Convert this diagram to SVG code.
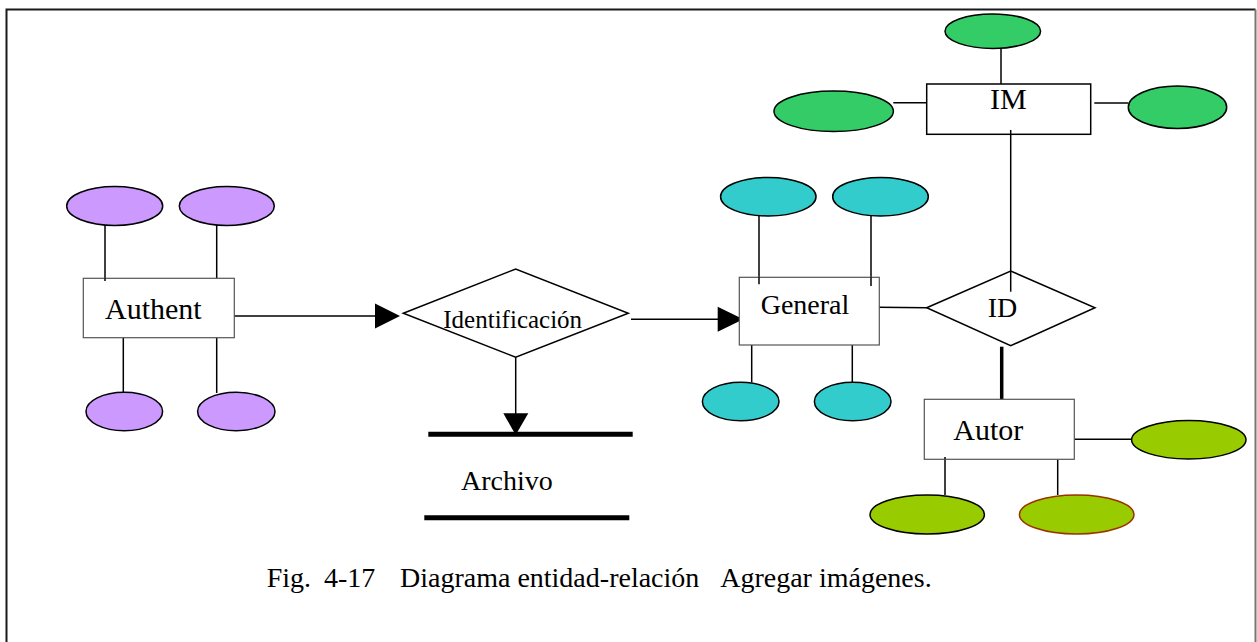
<svg xmlns="http://www.w3.org/2000/svg" width="1257" height="642" viewBox="0 0 1257 642">
  <defs>
    <style>
      .ent { fill: #ffffff; stroke: #555555; stroke-width: 1.2; }
      .rel { fill: #ffffff; stroke: #000000; stroke-width: 1.5; }
      .att { stroke: #000000; stroke-width: 1.5; }
      .purple { fill: #cc99ff; }
      .cyan { fill: #33cccc; }
      .green { fill: #33cc66; }
      .lime { fill: #99cc00; }
      .link { stroke: #000000; stroke-width: 1.5; fill: none; }
      .bar { stroke: #000000; stroke-width: 5; fill: none; }
      .head { fill: #000000; }
      text { font-family: 'Liberation Serif', 'Times New Roman', serif; fill: #000000; }
    </style>
  </defs>

  <rect x="0" y="0" width="1257" height="642" fill="#ffffff"/>

  <!-- outer frame -->
  <g id="frame">
    <path d="M6.5,650 V9.5 H1255.5" fill="none" stroke="#1a1a1a" stroke-width="2"/>
    <line x1="1255.5" y1="9.5" x2="1255.5" y2="650" stroke="#777777" stroke-width="2"/>
  </g>

  <!-- connectors -->
  <g id="connectors">
    <!-- Authent attributes -->
    <line class="link" x1="105" y1="224" x2="105" y2="280"/>
    <line class="link" x1="216.7" y1="224" x2="216.7" y2="280"/>
    <line class="link" x1="123.3" y1="337" x2="123.3" y2="392"/>
    <line class="link" x1="216.7" y1="337" x2="216.7" y2="393"/>
    <!-- Authent -> Identificación -->
    <line class="link" x1="231.7" y1="316" x2="380" y2="316"/>
    <polygon class="head" points="375,303.5 400,316 375,328.5"/>
    <!-- Identificación -> General -->
    <line class="link" x1="631" y1="319.3" x2="722" y2="319.3"/>
    <polygon class="head" points="717.7,306.8 743.3,319.3 717.7,331.8"/>
    <!-- Identificación -> Archivo -->
    <line class="link" x1="515.7" y1="357" x2="515.7" y2="418"/>
    <polygon class="head" points="503.3,413.3 528.3,413.3 515.7,435"/>
    <!-- General attributes -->
    <line class="link" x1="759" y1="215" x2="759" y2="284.3"/>
    <line class="link" x1="871" y1="215" x2="871" y2="286"/>
    <line class="link" x1="751.7" y1="345" x2="751.7" y2="382.3"/>
    <line class="link" x1="852.3" y1="345" x2="852.3" y2="383"/>
    <!-- General - ID -->
    <line class="link" x1="878.3" y1="307.3" x2="926.7" y2="307.7"/>
    <!-- IM - ID -->
    <line class="link" x1="1010.7" y1="130" x2="1010.7" y2="291.7"/>
    <!-- ID - Autor -->
    <line x1="1001.7" y1="346.7" x2="1001.7" y2="399.3" stroke="#000000" stroke-width="3.5"/>
    <!-- IM attributes -->
    <line class="link" x1="1001" y1="48" x2="1001" y2="84"/>
    <line class="link" x1="893.3" y1="102.7" x2="926.7" y2="102.7"/>
    <line class="link" x1="1094.3" y1="103" x2="1128.3" y2="103"/>
    <!-- Autor attributes -->
    <line class="link" x1="1074.3" y1="439.3" x2="1131.7" y2="439.3"/>
    <line class="link" x1="945" y1="459.3" x2="945" y2="495"/>
    <line class="link" x1="1057.7" y1="459.3" x2="1057.7" y2="495"/>
  </g>

  <!-- Authent entity and attributes -->
  <g id="authent">
    <ellipse class="att purple" cx="114.7" cy="206" rx="48" ry="19.5"/>
    <ellipse class="att purple" cx="226.8" cy="206" rx="47.5" ry="19.5"/>
    <ellipse class="att purple" cx="124.3" cy="411.5" rx="38.3" ry="19.2"/>
    <ellipse class="att purple" cx="236.3" cy="411.5" rx="38.7" ry="19.2"/>
    <rect class="ent" x="83.3" y="278.3" width="151" height="59.4"/>
    <line class="link" x1="105" y1="278.3" x2="105" y2="281"/>
    <text x="105" y="318.5" font-size="30" font-family="Liberation Serif, serif">Authent</text>
  </g>

  <!-- Identificación relationship -->
  <g id="identificacion">
    <polygon class="rel" points="403.3,313.3 515.7,269 628.3,313.3 515.7,357.3"/>
    <text x="443.3" y="328.3" font-size="25" font-family="Liberation Serif, serif">Identificación</text>
  </g>

  <!-- Archivo data store -->
  <g id="archivo">
    <line class="bar" x1="428.3" y1="434.3" x2="632.7" y2="434.3"/>
    <line class="bar" x1="424.3" y1="517.7" x2="629.3" y2="517.7"/>
    <text x="461" y="490" font-size="28" font-family="Liberation Serif, serif">Archivo</text>
  </g>

  <!-- General entity and attributes -->
  <g id="general">
    <ellipse class="att cyan" cx="768.3" cy="196.7" rx="47.7" ry="19.3"/>
    <ellipse class="att cyan" cx="880.5" cy="196.7" rx="47.8" ry="19.3"/>
    <ellipse class="att cyan" cx="740.7" cy="401.5" rx="38.3" ry="19.2"/>
    <ellipse class="att cyan" cx="852.7" cy="401.5" rx="38.3" ry="19.2"/>
    <rect class="ent" x="739.3" y="277.3" width="140" height="67.7"/>
    <line class="link" x1="759" y1="277.3" x2="759" y2="284.3"/>
    <line class="link" x1="871" y1="277.3" x2="871" y2="286"/>
    <text x="760.7" y="314" font-size="28" font-family="Liberation Serif, serif">General</text>
  </g>

  <!-- ID relationship -->
  <g id="id">
    <polygon class="rel" points="926.7,307.7 1010.7,271 1095,307.7 1010.7,345.7"/>
    <line class="link" x1="1010.7" y1="271" x2="1010.7" y2="291.7"/>
    <text x="987.7" y="316.7" font-size="28" font-family="Liberation Serif, serif">ID</text>
  </g>

  <!-- IM entity and attributes -->
  <g id="im">
    <ellipse class="att green" cx="992.8" cy="31.2" rx="47.8" ry="17.2"/>
    <ellipse class="att green" cx="833.7" cy="111.3" rx="59.7" ry="20.3"/>
    <ellipse class="att green" cx="1177.5" cy="107.2" rx="49.2" ry="21.2"/>
    <rect class="rel" x="926.7" y="84" width="164" height="50.3"/>
    <line class="link" x1="1010.7" y1="130" x2="1010.7" y2="134.3"/>
    <text x="990" y="109.3" font-size="30" font-family="Liberation Serif, serif">IM</text>
  </g>

  <!-- Autor entity and attributes -->
  <g id="autor">
    <ellipse class="att lime" cx="1188.8" cy="439.8" rx="57.2" ry="19.2"/>
    <ellipse class="att lime" cx="927.2" cy="514.5" rx="57.2" ry="19.5"/>
    <ellipse class="lime" cx="1076.7" cy="514.5" rx="57.3" ry="19.5" stroke="#993300" stroke-width="1.5"/>
    <rect class="ent" x="924.3" y="399.3" width="150" height="60"/>
    <line class="link" x1="945" y1="457" x2="945" y2="459.3"/>
    <text x="953.3" y="440" font-size="30" font-family="Liberation Serif, serif">Autor</text>
  </g>

  <!-- figure caption -->
  <g id="caption" font-size="28" font-family="Liberation Serif, serif">
    <text x="266.7" y="587">Fig.</text>
    <text x="324" y="587">4-17</text>
    <text x="400" y="587">Diagrama entidad-relación</text>
    <text x="931.7" y="587" text-anchor="end">Agregar imágenes.</text>
  </g>
</svg>
